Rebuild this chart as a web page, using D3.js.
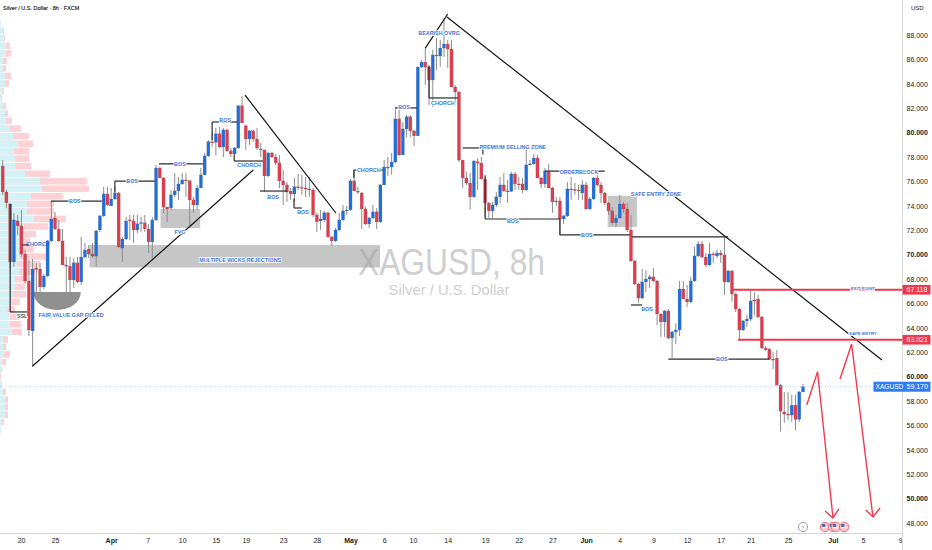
<!DOCTYPE html>
<html>
<head>
<meta charset="utf-8">
<title>XAGUSD 8h</title>
<script src="https://cdn.jsdelivr.net/npm/d3@7"></script>
<style>
    html, body { margin: 0; padding: 0; background: #fff; overflow: hidden; }
    svg { display: block; font-family: "Liberation Sans", Arial, sans-serif; }
</style>
</head>
<body>
<div id="chart"></div>
<script>
// Candles, 8h bars
const opens = [
    77.26,75.13,74.15,69.4,72.76,72.35,70.05,67.84,63.74,68.9,
    68.82,67.35,68.25,71.12,73.0,72.1,71.12,69.15,69.05,67.92,
    69.32,67.76,69.8,70.46,70.05,69.88,72.02,73.17,74.97,73.99,
    74.56,75.05,70.54,71.28,72.84,72.76,72.02,72.6,72.6,72.1,
    71.04,72.84,77.1,76.28,73.9,73.82,74.89,75.22,75.79,76.12,
    76.05,74.48,74.07,75.46,76.53,78.09,79.24,79.2,79.9,78.82,
    80.22,78.5,78.25,78.74,82.19,80.55,79.48,80.14,79.48,78.66,
    78.58,76.45,78.33,78.0,77.52,76.04,75.71,75.2,74.97,75.55,
    75.5,75.46,75.38,75.3,73.25,72.76,72.84,73.42,71.45,71.12,
    72.02,72.84,73.58,73.66,76.04,75.2,75.05,73.74,72.51,73.0,
    73.5,72.68,75.71,77.18,77.18,77.59,81.12,78.17,80.3,81.29,
    80.14,79.73,85.37,85.78,85.37,84.31,86.36,86.28,86.93,87.26,
    86.85,83.74,83.33,77.75,76.28,75.87,74.73,77.6,77.5,76.2,
    74.23,73.58,74.07,74.73,75.71,75.22,75.18,76.61,75.79,75.79,
    75.3,77.35,77.43,77.92,76.28,75.79,76.77,75.46,74.4,74.4,
    72.92,73.17,75.38,75.34,75.3,75.05,75.71,73.74,74.56,76.28,
    75.71,75.05,74.23,73.58,72.6,73.0,74.15,73.74,72.02,69.48,
    67.59,66.44,67.76,68.0,68.17,67.84,65.13,64.48,65.38,63.16,
    63.66,63.82,67.18,66.36,66.12,67.84,69.89,70.87,69.8,69.15,
    70.05,69.89,70.13,69.97,67.76,68.66,66.77,65.54,63.82,64.56,
    64.72,66.28,66.36,64.89,62.34,62.26,61.44,61.52,59.3,57.1,
    56.93,56.85,57.66,56.5,58.74
];
const highs = [
    77.75,75.3,74.2,73.4,73.25,73.66,70.38,69.56,69.64,69.3,
    69.3,68.4,71.2,74.4,73.5,72.84,72.1,69.8,69.8,69.72,
    69.8,71.45,70.95,70.79,70.95,72.02,73.25,75.55,75.55,75.46,
    75.55,75.13,71.45,73.09,73.25,73.25,73.25,73.09,73.25,72.5,
    73.09,77.35,77.18,76.36,73.9,75.3,76.69,76.36,76.69,76.69,
    76.12,74.73,75.71,77.1,78.33,79.4,79.96,80.4,80.47,80.38,
    80.3,78.74,78.82,82.26,83.0,80.63,80.22,80.22,80.38,79.15,
    78.58,78.41,78.41,78.25,78.17,76.94,75.96,75.46,76.28,76.61,
    76.53,76.36,76.36,75.46,73.42,73.66,73.58,73.5,71.53,72.18,
    73.42,74.07,74.0,76.2,76.86,75.55,75.13,73.9,73.09,74.07,
    73.82,75.79,77.75,78.0,78.33,82.1,81.86,80.88,81.45,81.45,
    80.22,85.45,85.95,86.93,85.45,86.77,87.75,87.6,89.4,87.6,
    87.6,83.9,83.4,77.75,76.77,76.69,77.75,77.9,78.0,76.28,
    74.32,74.32,75.13,76.36,76.69,76.12,76.77,76.77,76.36,76.28,
    78.74,77.75,78.25,78.17,76.36,77.1,77.43,75.55,74.73,74.73,
    73.25,75.96,76.36,75.87,75.71,76.12,75.96,74.73,76.36,76.77,
    75.96,75.13,74.32,73.9,73.25,74.89,74.32,74.23,73.25,69.56,
    67.67,68.82,68.74,68.33,68.9,67.92,65.2,65.46,65.54,63.74,
    64.38,67.84,67.84,67.51,68.17,70.63,71.12,71.12,70.13,70.95,
    70.22,70.38,70.38,71.45,68.74,68.74,66.85,65.62,64.64,65.05,
    67.02,66.9,66.69,64.97,62.5,62.34,62.0,62.18,59.39,58.74,
    58.74,58.5,58.5,58.82,59.4
];
const lows = [
    74.89,73.8,68.9,69.0,71.6,69.8,67.65,63.33,60.78,66.85,
    66.94,67.18,68.17,71.04,72.02,71.04,69.15,66.94,66.5,67.25,
    67.67,67.51,69.72,69.72,69.72,69.0,71.86,73.09,73.99,73.99,
    74.48,70.54,69.4,71.2,71.2,70.95,71.77,71.86,71.86,70.13,
    69.7,72.76,76.28,73.42,72.66,73.66,74.73,74.48,75.71,74.73,
    72.27,73.42,73.66,75.46,76.53,78.0,78.82,78.1,78.74,78.0,
    78.42,78.0,78.17,78.66,80.79,78.58,78.99,79.24,78.58,78.0,
    75.13,76.36,77.92,77.35,75.46,74.07,74.32,74.48,74.32,75.3,
    74.89,74.73,74.73,73.09,71.86,72.02,72.68,71.36,70.71,71.04,
    71.94,72.76,73.25,73.58,75.2,74.97,72.1,72.43,72.18,72.9,
    72.1,72.6,75.71,76.45,76.53,77.5,78.09,78.17,79.64,79.64,
    78.9,79.73,85.3,83.9,82.26,82.1,85.13,85.38,86.2,85.3,
    83.74,82.5,77.6,75.46,75.71,73.7,74.65,75.3,76.2,73.09,
    73.0,73.0,73.9,74.23,75.13,74.23,75.13,75.3,75.3,75.05,
    75.22,77.3,77.35,76.28,75.46,75.46,75.46,73.42,74.0,71.6,
    72.51,73.09,74.48,74.9,74.48,74.48,73.66,73.66,74.48,75.63,
    74.23,74.07,73.25,72.43,72.27,72.93,73.42,71.86,69.4,67.51,
    66.03,66.36,66.9,67.25,67.76,64.23,63.25,63.25,63.08,61.52,
    62.66,63.33,66.36,65.7,66.03,67.76,69.8,69.72,68.99,69.07,
    69.32,69.7,69.32,66.69,67.67,66.12,65.3,63.0,63.74,64.07,
    64.56,65.0,64.8,62.26,62.1,61.36,60.6,59.3,55.5,56.2,
    56.44,56.28,55.6,56.28,58.74
];
const closes = [
    75.13,74.25,69.4,72.84,72.35,70.05,67.84,63.82,68.82,68.78,
    67.35,68.25,71.12,72.92,72.1,71.12,69.15,69.05,67.92,69.32,
    67.76,69.8,70.38,70.05,69.88,71.94,73.17,74.97,74.07,74.56,
    75.05,70.63,71.28,72.76,72.8,72.02,72.52,72.63,72.1,71.04,
    72.84,77.1,76.28,73.9,73.74,74.89,75.22,75.79,76.12,76.05,
    74.48,74.07,75.46,76.53,78.09,79.24,79.2,79.9,78.82,80.22,
    78.5,78.25,78.74,82.19,80.79,79.48,80.14,79.48,78.74,78.62,
    76.45,78.33,78.0,77.52,76.04,75.71,75.13,74.97,75.55,75.5,
    75.45,75.38,75.33,73.25,72.68,72.92,73.42,71.45,71.12,72.02,
    72.84,73.58,73.66,76.04,75.22,75.13,73.74,72.51,73.0,73.5,
    72.68,75.71,77.18,77.14,77.59,81.12,78.17,80.3,81.29,80.14,
    79.73,85.37,85.78,85.37,84.31,86.36,86.28,86.93,87.26,86.85,
    83.74,83.33,77.75,76.28,75.87,74.73,77.67,77.5,76.2,74.23,
    73.58,74.07,74.73,75.71,75.22,75.18,76.61,75.79,75.75,75.3,
    77.35,77.43,77.92,76.28,75.79,76.86,75.46,74.32,74.36,72.92,
    73.17,75.38,75.34,75.3,75.22,75.71,73.74,74.56,76.28,75.71,
    75.05,74.23,73.58,72.6,73.0,74.15,73.74,72.02,69.48,67.59,
    66.44,67.76,68.0,68.17,67.84,65.13,64.48,65.38,63.16,63.66,
    63.82,67.18,66.36,66.12,67.84,69.89,70.87,69.8,69.15,70.05,
    69.97,70.13,69.97,67.76,68.66,66.77,65.54,63.82,64.56,64.72,
    66.2,66.2,64.89,62.34,62.2,61.44,61.4,59.3,57.17,56.93,
    56.85,57.66,56.5,58.74,59.17
];

// Time axis: bar index and label
const timeTicks = [4.9,14,29,38.8,48,57,65,75,84,93,102,109.7,119,129,138,147,156,165,174,183,192,200,210,222,230,240];
const timeLabels = ['20','25','Apr','7','10','15','19','23','28','May','6','10','14','19','22','27','Jun','4','9','12','17','21','25','Jul','5','9'];
const boldTimeLabels = ['Apr', 'May', 'Jun', 'Jul'];

const priceTicks = [48,50,52,54,56,58,60,62,64,66,68,70,72,74,76,78,80,82,84,86,88];
const boldPrices = [50, 60, 70, 80];

// Visible range volume profile, rows from top to bottom
const profileTopPrice = 89.23;
const profileRowPrice = 0.617;
const profileUp = [1,3,4,6,6,3,3,5,5,2,1,3,5,6,10,13,18,14,15,15,25,40,42,31,27,27,34,24,20,20,22,20,18,19,15,15,13,12,7,10,10,12,3,3,4,2,1,0,1,3,5,5,5,2,1];
const profileTotal = [1,4,5,10,11,7,6,11,9,4,2,6,8,12,21,29,33,29,29,31,50,87,89,63,54,54,66,48,36,30,34,46,40,35,27,25,26,20,15,20,21,22,8,6,10,6,2,1,2,6,8,8,8,4,1];

// Drawings, all in [bar index, price]
const zones = [
    [23.2, 70.79, 100.9, 68.94],
    [42.2, 73.74, 52.8, 72.18],
    [161.8, 74.82, 169.6, 72.26]
];
const gapBowl = [8.2, 66.93, 20.9, 65.46];

const trendLines = [
    [8, 60.87, 67, 76.93],
    [64.8, 83.08, 89.1, 73.41],
    [118.8, 89.48, 235.1, 61.36],
    [113, 86.93, 119, 89.72]
];
const structureLines = [
    [2, 65.3, 6.5, 65.3], [2, 74.15, 2, 65.3],
    [5.2, 70.79, 7, 70.79],
    [12.9, 74.39, 26.5, 74.39],
    [30, 76.03, 40.7, 76.03], [30, 76.03, 30, 75.1],
    [41.8, 77.43, 53.6, 77.43],
    [56, 80.87, 62.7, 80.87], [56, 80.87, 56, 79.4],
    [61.9, 77.67, 69.6, 77.67], [61.9, 78.2, 61.9, 77.67],
    [68.8, 75.21, 76, 75.21],
    [77.9, 73.82, 80, 73.82], [77.9, 74.6, 77.9, 73.82],
    [93.9, 76.93, 101.7, 76.93], [93.9, 76.93, 93.9, 76.3],
    [105, 82.02, 110.8, 82.02],
    [114, 82.84, 121.7, 82.84], [114, 85.5, 114, 82.84],
    [123, 78.74, 128.4, 78.74], [128.4, 78.74, 128.4, 78.2],
    [129, 72.92, 149, 72.92], [129, 76.5, 129, 72.92],
    [145, 76.85, 161, 76.85],
    [149, 71.61, 167.7, 71.61], [149, 72.92, 149, 71.61],
    [168.3, 71.45, 194, 71.45],
    [168, 65.87, 171, 65.87],
    [178, 61.44, 205, 61.44]
];
const levels = [
    [195, 67.118, 240.5],
    [196.6, 63.021, 240.5]
];
const projections = [
    [[215, 57.67], [217.9, 60.4], [222, 48.49]],
    [[219.9, 48.98], [222, 48.41], [223.6, 49.15]],
    [[223.9, 59.8], [227, 62.67], [232.7, 48.49]],
    [[230.8, 49.07], [232.7, 48.49], [234.6, 49.23]]
];
const notes = [
    ['SSL', 5.2, 64.97],
    ['FAIR VALUE GAP FILLED', 18.3, 65.05],
    ['BOS', 19.3, 74.39],
    ['BOS', 34.6, 76.03],
    ['BOS', 47.4, 77.43],
    ['FVG', 47.4, 71.85],
    ['MULTIPLE WICKS REJECTIONS', 63.5, 69.56],
    ['BOS', 59.5, 81.03],
    ['CHORCH', 65.9, 77.34],
    ['BOS', 72.3, 74.72],
    ['BOS', 80.3, 73.49],
    ['CHORCH', 97.9, 76.93],
    ['BOS', 107.3, 82.1],
    ['BEARISH OVRG', 116.7, 88.19],
    ['CHORCH', 117.7, 82.43],
    ['PREMIUM SELLING ZONE', 136.4, 78.82],
    ['BOS', 136.4, 72.75],
    ['ORDERBLOCK', 154.1, 76.77],
    ['BOS', 156.2, 71.61],
    ['SAFE ENTRY ZONE', 174.7, 74.97],
    ['BOS', 172.3, 65.54],
    ['BOS', 192.3, 61.44],
    ['EXIT POINT', 230, 67.26],
    ['SAFE ENTRY', 230, 63.57]
];

const lastPrice = 59.17;
const eventBars = [219.9, 222, 222.8, 225];
const dividendBar = 214;

const width = 932;
const height = 550;
const axisX = 902.5;
const axisY = 533.5;

const upColor = '#1f6ee0';
const downColor = '#e23b4b';
const wickColor = '#8d8d8d';
const noteColor = '#3b78e0';
const levelColor = '#f0384c';

const x = d3.scaleLinear().domain([0, 214]).range([2.7, 803]);
const y = d3.scaleLinear().domain([48, 88]).range([523, 35]);
const profileX = d3.scaleLinear().domain([0, 100]).range([0, 100]);

const svg = d3.select('#chart').append('svg')
    .attr('width', width)
    .attr('height', height);

svg.append('rect')
    .attr('width', width)
    .attr('height', height)
    .attr('fill', '#fff');

// Volume profile
const profile = svg.append('g');
const rowY = i => y(profileTopPrice - i * profileRowPrice);
const rowH = y(0) - y(profileRowPrice) - 1;

profile.selectAll('.vp-total')
    .data(profileTotal)
    .join('rect')
    .attr('class', 'vp-total')
    .attr('x', d => profileX(0))
    .attr('y', (d, i) => rowY(i))
    .attr('width', d => profileX(d))
    .attr('height', rowH)
    .attr('fill', '#fdd2d6');

profile.selectAll('.vp-up')
    .data(profileUp)
    .join('rect')
    .attr('class', 'vp-up')
    .attr('x', d => profileX(0))
    .attr('y', (d, i) => rowY(i))
    .attr('width', d => profileX(d))
    .attr('height', rowH)
    .attr('fill', '#d3f2f6');

// Watermark
svg.append('text')
    .attr('x', 358)
    .attr('y', 275)
    .attr('font-size', 36)
    .attr('textLength', 187)
    .attr('lengthAdjust', 'spacingAndGlyphs')
    .attr('fill', '#cfcfcf')
    .text('XAGUSD, 8h');

svg.append('text')
    .attr('x', 449)
    .attr('y', 295)
    .attr('text-anchor', 'middle')
    .attr('font-size', 14.8)
    .attr('fill', '#cfcfcf')
    .text('Silver / U.S. Dollar');

// Zones
svg.append('g').selectAll('rect')
    .data(zones)
    .join('rect')
    .attr('x', d => x(d[0]))
    .attr('y', d => y(d[1]))
    .attr('width', d => x(d[2]) - x(d[0]))
    .attr('height', d => y(d[3]) - y(d[1]))
    .attr('fill', '#a3a3a3')
    .attr('opacity', 0.62);

// Half bowl under the gap
const bowlRx = (x(gapBowl[2]) - x(gapBowl[0])) / 2;
const bowlRy = y(gapBowl[3]) - y(gapBowl[1]);
svg.append('path')
    .attr('d', `M${x(gapBowl[0])},${y(gapBowl[1])} A${bowlRx},${bowlRy} 0 0 0 ${x(gapBowl[2])},${y(gapBowl[1])} Z`)
    .attr('fill', '#8f8f8f');

// This label sits under the candles in the original
svg.append('text')
    .attr('x', x(9.4))
    .attr('y', y(70.87))
    .attr('dy', '0.35em')
    .attr('text-anchor', 'middle')
    .attr('font-size', 5.4)
    .attr('font-weight', 700)
    .attr('fill', noteColor)
    .text('CHORCH');

// Candles
const candles = svg.append('g');
const barIndex = d3.range(opens.length);

candles.selectAll('.wick')
    .data(barIndex)
    .join('line')
    .attr('class', 'wick')
    .attr('x1', i => x(i))
    .attr('x2', i => x(i))
    .attr('y1', i => y(highs[i]))
    .attr('y2', i => y(lows[i]))
    .attr('stroke', wickColor)
    .attr('stroke-width', 1);

candles.selectAll('.body')
    .data(barIndex)
    .join('rect')
    .attr('class', 'body')
    .attr('x', i => x(i) - 1.55)
    .attr('y', i => y(Math.max(opens[i], closes[i])))
    .attr('width', 3.1)
    .attr('height', i => Math.max(1, Math.abs(y(opens[i]) - y(closes[i]))))
    .attr('fill', i => closes[i] >= opens[i] ? upColor : downColor)
    .attr('stroke', '#666')
    .attr('stroke-width', 0.2);

// Last price line
svg.append('line')
    .attr('x1', 0)
    .attr('x2', axisX)
    .attr('y1', y(lastPrice))
    .attr('y2', y(lastPrice))
    .attr('stroke', '#9dc3f5')
    .attr('stroke-width', 0.8)
    .attr('stroke-dasharray', '1,1.5');

// Structure and trend lines
svg.append('g').selectAll('line')
    .data(structureLines)
    .join('line')
    .attr('x1', d => x(d[0]))
    .attr('y1', d => y(d[1]))
    .attr('x2', d => x(d[2]))
    .attr('y2', d => y(d[3]))
    .attr('stroke', '#2b2b2b')
    .attr('stroke-width', 1.2);

svg.append('g').selectAll('line')
    .data(trendLines)
    .join('line')
    .attr('x1', d => x(d[0]))
    .attr('y1', d => y(d[1]))
    .attr('x2', d => x(d[2]))
    .attr('y2', d => y(d[3]))
    .attr('stroke', '#111')
    .attr('stroke-width', 1.2);

// Exit and entry levels
svg.append('g').selectAll('line')
    .data(levels)
    .join('line')
    .attr('x1', d => x(d[0]))
    .attr('x2', d => x(d[2]))
    .attr('y1', d => y(d[1]))
    .attr('y2', d => y(d[1]))
    .attr('stroke', levelColor)
    .attr('stroke-width', 1.9);

// Projected path
const pathLine = d3.line()
    .x(d => x(d[0]))
    .y(d => y(d[1]));

svg.append('g').selectAll('path')
    .data(projections)
    .join('path')
    .attr('d', pathLine)
    .attr('fill', 'none')
    .attr('stroke', '#f2394d')
    .attr('stroke-width', 1.4);

// Notes
svg.append('g').selectAll('text')
    .data(notes)
    .join('text')
    .attr('x', d => x(d[1]))
    .attr('y', d => y(d[2]))
    .attr('dy', '0.35em')
    .attr('text-anchor', 'middle')
    .attr('font-size', d => d[0] === 'EXIT POINT' || d[0] === 'SAFE ENTRY' ? 4.4 : 5.4)
    .attr('font-weight', 700)
    .attr('fill', d => d[0] === 'SSL' ? '#4a5a78' : noteColor)
    .attr('stroke', '#fff')
    .attr('stroke-width', 1.6)
    .attr('paint-order', 'stroke')
    .text(d => d[0]);

// Calendar markers
const markerY = 527;
svg.append('circle')
    .attr('cx', x(dividendBar))
    .attr('cy', markerY)
    .attr('r', 4.6)
    .attr('fill', '#fff')
    .attr('stroke', '#8f7fa8')
    .attr('stroke-width', 0.8);

svg.append('text')
    .attr('x', x(dividendBar))
    .attr('y', markerY)
    .attr('dy', '0.35em')
    .attr('text-anchor', 'middle')
    .attr('font-size', 5.5)
    .attr('fill', '#777')
    .attr('font-family', 'DejaVu Sans')
    .text('\u26A1');

const flags = svg.append('g').selectAll('g')
    .data(eventBars)
    .join('g')
    .attr('transform', d => `translate(${x(d)},${markerY})`);

flags.append('circle')
    .attr('r', 4.7)
    .attr('fill', '#f8c6cb')
    .attr('stroke', '#f0606e')
    .attr('stroke-width', 0.9);

flags.append('rect')
    .attr('x', -3)
    .attr('y', -3)
    .attr('width', 3.2)
    .attr('height', 3)
    .attr('fill', '#4a6fb8');

flags.append('rect')
    .attr('x', -3.2)
    .attr('y', 0.3)
    .attr('width', 6.4)
    .attr('height', 0.9)
    .attr('fill', '#fff');

// Axes
const yAxis = d3.axisRight(y)
    .tickValues(priceTicks)
    .tickSize(0)
    .tickPadding(4)
    .tickFormat(d3.format('.3f'));

const yAxisG = svg.append('g')
    .attr('transform', `translate(${axisX},0)`)
    .call(yAxis);

yAxisG.select('.domain').remove();
yAxisG.selectAll('text')
    .attr('font-size', 7)
    .attr('font-family', '"Liberation Sans", Arial, sans-serif')
    .attr('font-weight', d => boldPrices.includes(d) ? 700 : 400)
    .attr('fill', '#222');

const labelByTick = new Map(timeTicks.map((t, i) => [t, timeLabels[i]]));
const xAxis = d3.axisBottom(x)
    .tickValues(timeTicks)
    .tickSize(0)
    .tickPadding(5)
    .tickFormat(d => labelByTick.get(d));

const xAxisG = svg.append('g')
    .attr('transform', `translate(0,${axisY})`)
    .call(xAxis);

xAxisG.select('.domain').remove();
xAxisG.selectAll('text')
    .attr('font-size', 7)
    .attr('font-family', '"Liberation Sans", Arial, sans-serif')
    .attr('font-weight', d => boldTimeLabels.includes(labelByTick.get(d)) ? 700 : 400)
    .attr('fill', '#222');

svg.append('line')
    .attr('x1', axisX)
    .attr('x2', axisX)
    .attr('y1', 0)
    .attr('y2', height)
    .attr('stroke', '#d9d9d9');

svg.append('line')
    .attr('x1', 0)
    .attr('x2', axisX)
    .attr('y1', axisY)
    .attr('y2', axisY)
    .attr('stroke', '#d4d4d4')
    .attr('stroke-width', 1.2);

// Price tags on the axis
const tags = svg.append('g').selectAll('g')
    .data(levels)
    .join('g')
    .attr('transform', d => `translate(${axisX},${y(d[1])})`);

tags.append('rect')
    .attr('y', -4.8)
    .attr('width', 28)
    .attr('height', 9.6)
    .attr('fill', levelColor);

tags.append('text')
    .attr('x', 4)
    .attr('dy', '0.35em')
    .attr('font-size', 7)
    .attr('fill', '#fff')
    .text(d => d3.format('.3f')(d[1]));

const lastTag = svg.append('g')
    .attr('transform', `translate(${axisX},${y(lastPrice)})`);

lastTag.append('rect')
    .attr('x', -29)
    .attr('y', -5)
    .attr('width', 57)
    .attr('height', 10)
    .attr('fill', '#2f7df2');

lastTag.append('text')
    .attr('x', -27)
    .attr('dy', '0.35em')
    .attr('font-size', 6.6)
    .attr('fill', '#fff')
    .text('XAGUSD');

lastTag.append('text')
    .attr('x', 4)
    .attr('dy', '0.35em')
    .attr('font-size', 7)
    .attr('fill', '#fff')
    .text(d3.format('.3f')(lastPrice));

// Header
svg.append('text')
    .attr('x', 3)
    .attr('y', 10)
    .attr('font-size', 5.5)
    .attr('fill', '#222')
    .attr('stroke', '#222')
    .attr('stroke-width', 0.15)
    .text('Silver / U.S. Dollar \u00B7 8h \u00B7 FXCM');

svg.append('text')
    .attr('x', 911)
    .attr('y', 10)
    .attr('font-size', 6)
    .attr('fill', '#222')
    .text('USD');
</script>
</body>
</html>
